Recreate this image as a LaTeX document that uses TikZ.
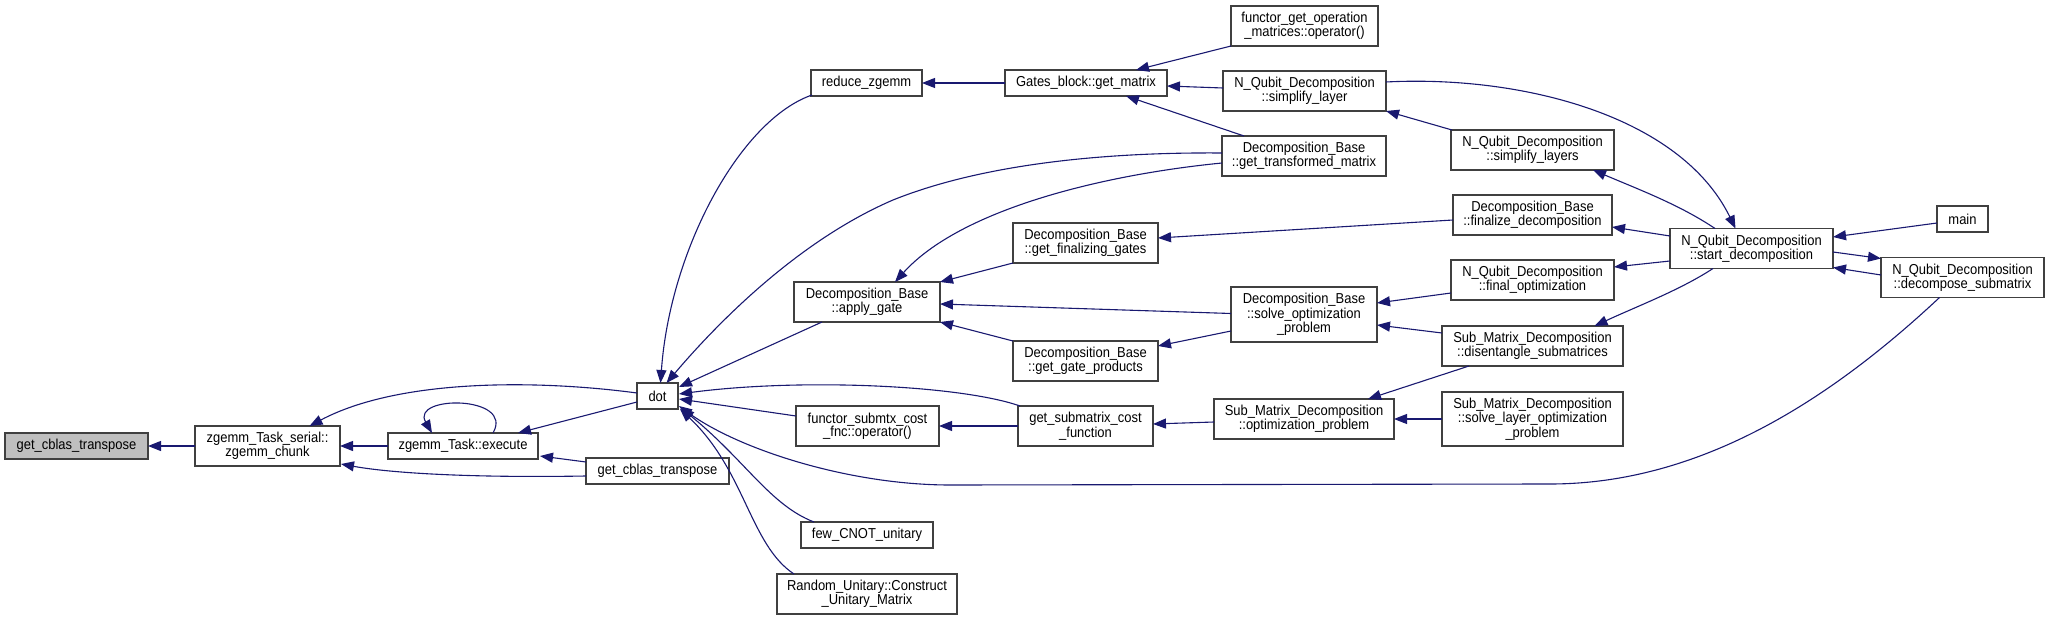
\documentclass[tikz,border=0pt]{standalone}
\usepackage{fontspec}
\setmainfont{Liberation Sans}[FakeStretch=0.9]
\usetikzlibrary{arrows.meta,calc}
\definecolor{edgeblue}{HTML}{191970}
\definecolor{boxline}{HTML}{404040}
\definecolor{boxfill}{HTML}{BFBFBF}
\begin{document}
\begin{tikzpicture}[x=1pt,y=-1pt,
  box/.style={draw=boxline, line width=1.2pt, fill=white, inner sep=0pt, outer sep=0pt,
    align=center, font=\fontsize{14.4}{13.3}\selectfont},
  sz/.style 2 args={minimum width=#1pt, minimum height=#2pt},
  e/.style={draw=edgeblue, line width=1.1pt, -{Triangle[length=13pt,width=10pt]}}]
\useasboundingbox (0,0) rectangle (2049,620);
% nodes
\node[box,sz={143}{26},fill=boxfill] (g1) at (76.5,446) {get\_cblas\_transpose};
\node[box,sz={145}{40}] (zc) at (267.5,446) {zgemm\_Task\_serial::\\zgemm\_chunk};
\node[box,sz={150}{26}] (ex) at (463,446) {zgemm\_Task::execute};
\node[box,sz={41}{26}] (dot) at (657.5,396) {dot};
\node[box,sz={143}{26}] (g2) at (657.5,471) {get\_cblas\_transpose};
\node[box,sz={111}{26}] (rz) at (866.5,83) {reduce\_zgemm};
\node[box,sz={162}{26}] (gm) at (1086,83) {Gates\_block::get\_matrix};
\node[box,sz={147}{40}] (fgom) at (1304.5,26) {functor\_get\_operation\\\_matrices::operator()};
\node[box,sz={163}{40}] (sl) at (1304.5,91) {N\_Qubit\_Decomposition\\::simplify\_layer};
\node[box,sz={164}{40}] (gtm) at (1304,156) {Decomposition\_Base\\::get\_transformed\_matrix};
\node[box,sz={146}{40}] (ag) at (867,302) {Decomposition\_Base\\::apply\_gate};
\node[box,sz={145}{40}] (gfg) at (1085.5,243) {Decomposition\_Base\\::get\_finalizing\_gates};
\node[box,sz={145}{40}] (ggp) at (1085.5,361) {Decomposition\_Base\\::get\_gate\_products};
\node[box,sz={146}{55}] (sop) at (1304,314.5) {Decomposition\_Base\\::solve\_optimization\\\_problem};
\node[box,sz={143}{40}] (fsc) at (867.5,426) {functor\_submtx\_cost\\\_fnc::operator()};
\node[box,sz={135}{40}] (gscf) at (1085.5,426) {get\_submatrix\_cost\\\_function};
\node[box,sz={180}{40}] (op) at (1304,419) {Sub\_Matrix\_Decomposition\\::optimization\_problem};
\node[box,sz={132}{26}] (fcu) at (867,535) {few\_CNOT\_unitary};
\node[box,sz={180}{40}] (ru) at (867,594) {Random\_Unitary::Construct\\\_Unitary\_Matrix};
\node[box,sz={163}{40}] (sls) at (1532.5,150) {N\_Qubit\_Decomposition\\::simplify\_layers};
\node[box,sz={159}{40}] (fd) at (1532.5,215) {Decomposition\_Base\\::finalize\_decomposition};
\node[box,sz={163}{40}] (fo) at (1532.5,280) {N\_Qubit\_Decomposition\\::final\_optimization};
\node[box,sz={181}{40}] (ds) at (1532.5,346) {Sub\_Matrix\_Decomposition\\::disentangle\_submatrices};
\node[box,sz={181}{54}] (slop) at (1532.5,419) {Sub\_Matrix\_Decomposition\\::solve\_layer\_optimization\\\_problem};
\node[box,sz={163}{40}] (sd) at (1751.5,248.5) {N\_Qubit\_Decomposition\\::start\_decomposition};
\node[box,sz={51}{26}] (main) at (1962.5,219) {main};
\node[box,sz={163}{40}] (dsm) at (1962.5,277.5) {N\_Qubit\_Decomposition\\::decompose\_submatrix};
% edges (left part)
\draw[e] (zc.west) -- (g1.east);
\draw[e] (ex.west) -- (zc.east);
\draw[e] ($(g2.west)+(0,5)$) .. controls (470,478) and (390,473) .. ($(zc.south east)+(1,-2)$);
\draw[e] ($(dot.west)+(0,-3)$) .. controls (540,380) and (400,378) .. ($(zc.north)+(42,0)$);
\draw[e] ($(dot.west)+(0,6)$) -- ($(ex.north)+(55,0)$);
\draw[e] ($(ex.north)+(30,0)$) .. controls (515,395) and (410,395) .. ($(ex.north)+(-31,0)$);
\draw[e] ($(g2.west)+(0,-9)$) -- ($(ex.south east)+(2,-3)$);
% edges into dot
\draw[e] ($(rz.south west)+(1,-1)$) .. controls (740,120) and (670,250) .. ($(dot.north)+(3,0)$);
\draw[e] ($(gtm.west)+(0,-3)$) .. controls (1100,152) and (980,165) .. (893,200)
  .. controls (800,240) and (720,320) .. ($(dot.north)+(9,0)$);
\draw[e] ($(ag.south west)+(28,0)$) -- ($(dot.north east)+(1,4)$);
\draw[e] ($(gscf.north west)+(2,0)$) .. controls (960,385) and (800,378) .. ($(dot.east)+(1,-2)$);
\draw[e] ($(fsc.west)+(0,-10)$) -- ($(dot.east)+(1,3)$);
\draw[e] ($(dsm.south)+(-23,0)$) .. controls (1830,400) and (1700,484) .. (1550,484)
  -- (950,485) .. controls (850,485) and (740,450) .. ($(dot.south east)+(1,-3)$);
\draw[e] ($(fcu.north west)+(13,0)$) .. controls (770,505) and (745,460) .. ($(dot.south east)+(3,-1)$);
\draw[e] ($(ru.north west)+(17,0)$) .. controls (750,545) and (745,470) .. ($(dot.south east)+(2,0)$);
% middle edges
\draw[e] (gm.west) -- (rz.east);
\draw[e] (fgom.south west) -- ($(gm.north)+(50,0)$);
\draw[e] ($(sl.west)+(0,-3)$) -- ($(gm.east)+(0,3)$);
\draw[e] ($(gtm.north west)+(22,0)$) -- ($(gm.south)+(40,0)$);
\draw[e] ($(gtm.west)+(0,7)$) .. controls (1100,175) and (960,210) .. ($(ag.north)+(28,0)$);
\draw[e] (gfg.south west) -- (ag.north east);
\draw[e] ($(sop.west)+(0,-1)$) -- ($(ag.east)+(0,2)$);
\draw[e] (ggp.north west) -- (ag.south east);
\draw[e] ($(sop.west)+(0,16.5)$) -- ($(ggp.north east)+(0,5)$);
\draw[e] (gscf.west) -- (fsc.east);
\draw[e] ($(op.west)+(0,3)$) -- ($(gscf.east)+(0,-2)$);
\draw[e] (slop.west) -- (op.east);
\draw[e] ($(ds.south west)+(27,0)$) -- ($(op.north)+(64,0)$);
\draw[e] ($(ds.north west)+(0,7)$) -- ($(sop.east)+(0,10.5)$);
\draw[e] ($(fo.west)+(0,13)$) -- ($(sop.north east)+(0,16)$);
% right edges
\draw[e] ($(sd.south)+(-38.5,0)$) .. controls (1680,290) and (1640,305) .. ($(ds.north)+(62,0)$);
\draw[e] ($(fd.west)+(0,5)$) -- ($(gfg.east)+(0,-5)$);
\draw[e] ($(sls.north west)+(1,0)$) -- (sl.south east);
\draw[e] ($(sl.east)+(0,-9)$) .. controls (1520,75) and (1680,115) .. ($(sd.north)+(-16,0)$);
\draw[e] ($(sd.north)+(-36.5,0)$) .. controls (1680,205) and (1640,190) .. ($(sls.south east)+(-21,0)$);
\draw[e] ($(sd.west)+(0,-12.5)$) -- ($(fd.east)+(0,12)$);
\draw[e] ($(sd.west)+(0,12.5)$) -- ($(fo.east)+(0,-13)$);
\draw[e] ($(main.west)+(0,4)$) -- ($(sd.east)+(0,-11.5)$);
\draw[e] ($(sd.east)+(0,3.5)$) -- ($(dsm.north west)+(0,1)$);
\draw[e] ($(dsm.west)+(0,-2.5)$) -- ($(sd.south east)+(0,-1)$);
\end{tikzpicture}
\end{document}
